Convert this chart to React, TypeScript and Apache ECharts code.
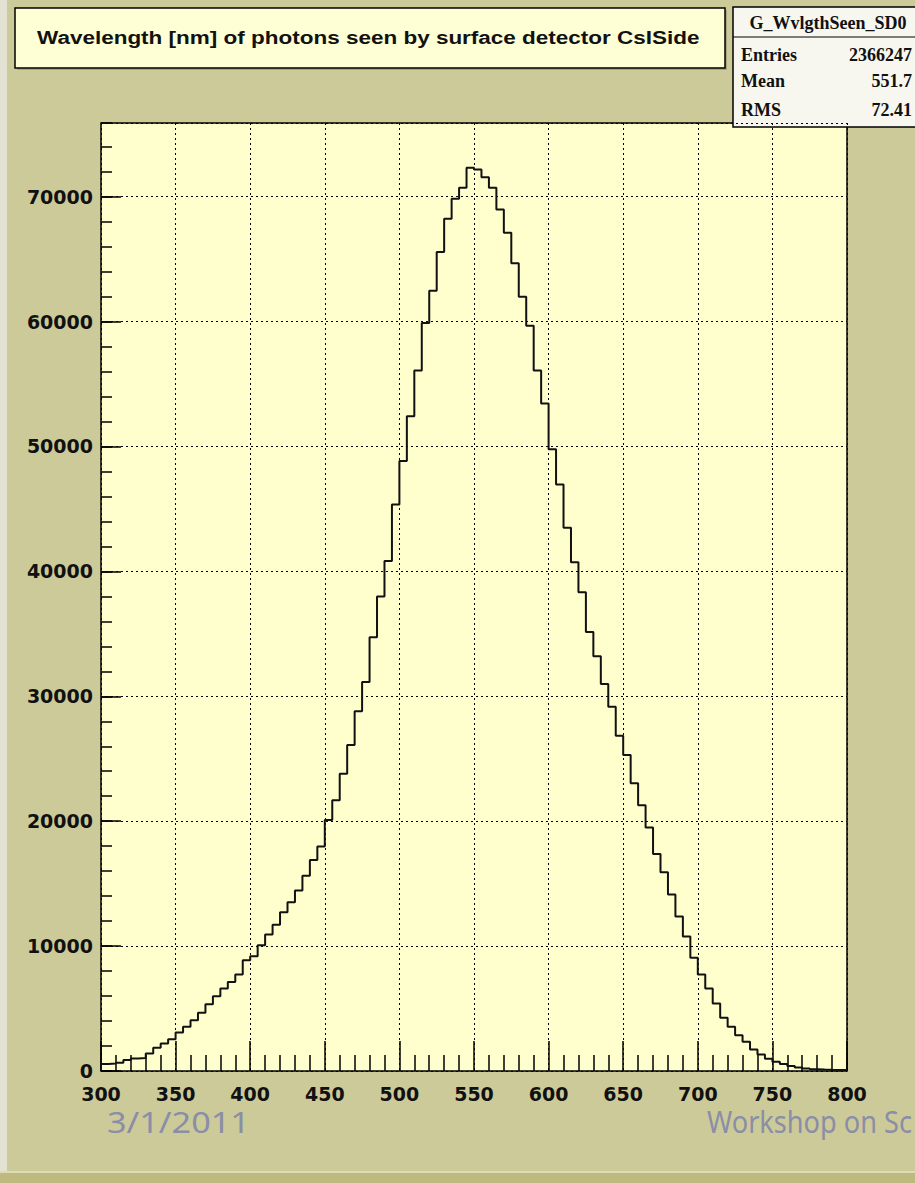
import React, { useEffect, useRef } from "react";
import * as echarts from "echarts";

// ---- data ----
const binStart = 300; // nm, left edge of first bin
const binWidth = 5; // nm
const counts = [
  560, 600, 665, 880, 1010, 1050, 1410, 1860, 2210, 2550,
  3090, 3540, 4070, 4660, 5350, 5990, 6600, 7130, 7720, 8860,
  9180, 10060, 10930, 11710, 12720, 13510, 14450, 15640, 16890, 17980,
  20100, 21680, 23790, 26100, 28810, 31150, 34720, 37990, 40840, 45360,
  48840, 52430, 56080, 59880, 62460, 65580, 68240, 69830, 70710, 72310,
  72170, 71560, 70710, 68980, 67120, 64670, 61990, 59670, 56080, 53450,
  49780, 46950, 43500, 40730, 38330, 35140, 33200, 30990, 29160, 26850,
  25300, 23040, 21280, 19500, 17370, 15910, 14130, 12370, 10770, 9070,
  7720, 6600, 5400, 4260, 3540, 2870, 2340, 1730, 1330, 980,
  745, 560, 400, 290, 210, 150, 120, 100, 90, 80,
];
const xRange = [300, 800];
const xMajor = 50;
const xMinorSplit = 5;
const yRange = [0, 75900];
const yMajor = 10000;
const yMinor = 2000;

const titleText = "Wavelength [nm] of photons seen by surface detector CsISide";
const statsName = "G_WvlgthSeen_SD0";
const statsLabels = ["Entries", "Mean", "RMS"];
const statsValues = ["2366247", "551.7", "72.41"];
const footerLeft = "3/1/2011";
const footerRight = "Workshop on Sc";

// ---- helpers ----
function measure(text: string, font: string): number {
  const c = document.createElement("canvas").getContext("2d");
  if (!c) return text.length * 10;
  c.font = font;
  return c.measureText(text).width;
}

function buildHist(): number[][] {
  const pts: number[][] = [[binStart, 0]];
  counts.forEach((c, i) => pts.push([binStart + i * binWidth, c]));
  const end = binStart + counts.length * binWidth;
  pts.push([end, counts[counts.length - 1]]);
  pts.push([end, 0]);
  return pts;
}

export default function App() {
  const ref = useRef<HTMLDivElement>(null);

  useEffect(() => {
    if (!ref.current) return;
    const chart = echarts.init(ref.current, null, {
      renderer: "svg",
      width: 915,
      height: 1183,
    });

    const titleFont = "bold 18px 'Liberation Sans'";
    const titleScale = 663 / measure(titleText, titleFont);
    const footFont = "30px 'Noto Sans'";
    const footLScale = 143 / measure(footerLeft, footFont);
    const footRScale = 205 / measure(footerRight, footFont);

    const statsFont = "bold 18px 'Liberation Serif'";
    const statsRowY = [55, 81, 110];

    const tickStyle = { color: "#000", width: 1.5 };
    const labelStyle = {
      color: "#111",
      fontFamily: "DejaVu Sans",
      fontWeight: "bold" as const,
      fontSize: 19,
    };

    const option: any = {
      animation: false,
      backgroundColor: "#cdca99",
      grid: {
        left: 101,
        top: 123,
        width: 746,
        height: 948,
        show: true,
        backgroundColor: "#ffffcd",
        borderColor: "#000",
        borderWidth: 1.5,
        containLabel: false,
        outerBoundsMode: "none",
      },
      xAxis: [
        {
          type: "value",
          min: xRange[0],
          max: xRange[1],
          interval: xMajor,
          position: "bottom",
          axisLine: { show: false, onZero: false },
          axisTick: { show: true, inside: true, length: 30, lineStyle: tickStyle },
          minorTick: { show: true, splitNumber: xMinorSplit, length: 16, lineStyle: tickStyle },
          axisLabel: { ...labelStyle, margin: 13 },
          splitLine: { show: true, lineStyle: { color: "#000", width: 1, type: [2, 3] } },
        },
      ],
      yAxis: [
        {
          type: "value",
          min: yRange[0],
          max: yRange[1],
          interval: yMajor,
          position: "left",
          axisLine: { show: false, onZero: false },
          axisTick: { show: true, inside: true, length: 20, lineStyle: tickStyle },
          axisLabel: {
            ...labelStyle,
            margin: 8,
            showMaxLabel: false,
            formatter: (v: number) => String(v),
          },
          splitLine: { show: true, lineStyle: { color: "#000", width: 1, type: [2, 3] } },
        },
        {
          type: "value",
          min: yRange[0],
          max: yRange[1],
          interval: yMinor,
          position: "left",
          axisLine: { show: false, onZero: false },
          axisTick: { show: true, inside: true, length: 11, lineStyle: tickStyle },
          axisLabel: { show: false },
          splitLine: { show: false },
        },
      ],
      series: [
        {
          type: "line",
          xAxisIndex: 0,
          yAxisIndex: 0,
          step: "end",
          data: buildHist(),
          symbol: "none",
          lineStyle: { color: "#111", width: 2 },
          clip: true,
          z: 5,
        },
      ],
      graphic: [
        // slide edges
        { type: "rect", shape: { x: 0, y: 0, width: 7, height: 1183 }, style: { fill: "#e2e1d2" }, silent: true },
        { type: "rect", shape: { x: 0, y: 1171, width: 915, height: 2 }, style: { fill: "#dedcb6" }, silent: true },
        { type: "rect", shape: { x: 0, y: 1173, width: 915, height: 10 }, style: { fill: "#bdb97f" }, silent: true },
        // title box
        {
          type: "rect",
          shape: { x: 17, y: 10, width: 710, height: 60 },
          style: { fill: "#a9a67c" },
          silent: true,
        },
        {
          type: "rect",
          shape: { x: 15, y: 8, width: 710, height: 60 },
          style: { fill: "#ffffd5", stroke: "#000", lineWidth: 1.5 },
          silent: true,
        },
        {
          type: "text",
          x: 37,
          y: 38,
          scaleX: titleScale,
          style: {
            text: titleText,
            font: titleFont,
            fill: "#111",
            textAlign: "left",
            textVerticalAlign: "middle",
          },
          silent: true,
        },
        // stats box
        {
          type: "rect",
          shape: { x: 733, y: 7, width: 186, height: 120 },
          style: { fill: "#f7f7ef", stroke: "#000", lineWidth: 1.5 },
          silent: true,
        },
        {
          type: "line",
          shape: { x1: 733, y1: 37, x2: 915, y2: 37 },
          style: { stroke: "#000", lineWidth: 1 },
          silent: true,
        },
        {
          type: "text",
          x: 828,
          y: 23,
          style: {
            text: statsName,
            font: statsFont,
            fill: "#111",
            textAlign: "center",
            textVerticalAlign: "middle",
          },
          silent: true,
        },
        ...statsLabels.map((lab, i) => ({
          type: "text",
          x: 741,
          y: statsRowY[i],
          style: { text: lab, font: statsFont, fill: "#111", textAlign: "left", textVerticalAlign: "middle" },
          silent: true,
        })),
        ...statsValues.map((val, i) => ({
          type: "text",
          x: 912,
          y: statsRowY[i],
          style: { text: val, font: statsFont, fill: "#111", textAlign: "right", textVerticalAlign: "middle" },
          silent: true,
        })),
        // footer
        {
          type: "text",
          x: 107,
          y: 1121,
          scaleX: footLScale,
          style: { text: footerLeft, font: footFont, fill: "#8a8ea6", textAlign: "left", textVerticalAlign: "middle" },
          silent: true,
        },
        {
          type: "text",
          x: 707,
          y: 1121,
          scaleX: footRScale,
          style: { text: footerRight, font: footFont, fill: "#8a8ea6", textAlign: "left", textVerticalAlign: "middle" },
          silent: true,
        },
      ],
    };

    chart.setOption(option);
    return () => chart.dispose();
  }, []);

  return (
    <div
      ref={ref}
      style={{ position: "fixed", left: 0, top: 0, width: 915, height: 1183 }}
    />
  );
}
